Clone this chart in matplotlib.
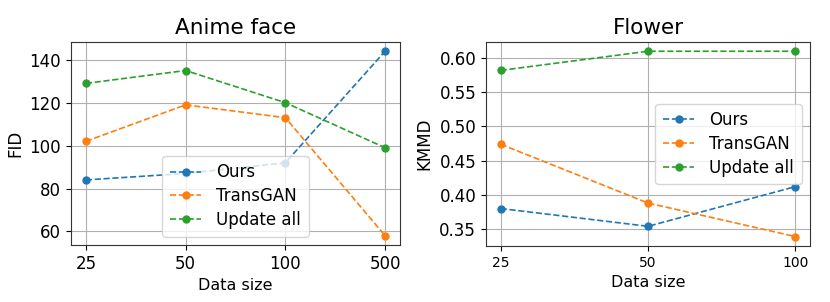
import matplotlib
matplotlib.use("Agg")
import matplotlib.pyplot as plt

series = ["Ours", "TransGAN", "Update all"]
colors = ["#1f77b4", "#ff7f0e", "#2ca02c"]

anime_sizes = ["25", "50", "100", "500"]
anime_ours = [84, 87, 92, 144]
anime_transgan = [102, 119, 113, 58]
anime_update_all = [129, 135, 120, 99]

flower_sizes = ["25", "50", "100"]
flower_ours = [0.380, 0.354, 0.412]
flower_transgan = [0.474, 0.388, 0.339]
flower_update_all = [0.582, 0.610, 0.610]

fig = plt.figure(figsize=(8.3, 3.02), dpi=100)
ax1 = fig.add_axes([0.0855, 0.189, 0.3965, 0.672])
ax2 = fig.add_axes([0.5855, 0.186, 0.3905, 0.675])


def draw(ax, sizes, vals, title, ylabel, loc, xfs):
    x = list(range(len(sizes)))
    for name, v, c in zip(series, vals, colors):
        ax.plot(x, v, "--", marker="o", color=c, label=name, linewidth=1.2, markersize=5)
    ax.set_xticks(x)
    ax.set_xticklabels(sizes, fontsize=xfs)
    ax.tick_params(axis="y", labelsize=12)
    ax.set_title(title, fontsize=15.5)
    ax.set_xlabel("Data size", fontsize=11.5)
    ax.set_ylabel(ylabel, fontsize=12)
    ax.grid(True, color="#b0b0b0", linewidth=0.8)
    for s in ax.spines.values():
        s.set_color("#333333")
    ax.legend(loc=loc, fontsize=12, labelspacing=0.35, handlelength=1.9,
              handletextpad=0.9, borderpad=0.45)


draw(ax1, anime_sizes, [anime_ours, anime_transgan, anime_update_all],
     "Anime face", "FID", "lower center", 12)
draw(ax2, flower_sizes, [flower_ours, flower_transgan, flower_update_all],
     "Flower", "KMMD", "center right", 10)
ax2.set_yticks([0.35, 0.40, 0.45, 0.50, 0.55, 0.60])

fig.savefig("out.png", dpi=100)
